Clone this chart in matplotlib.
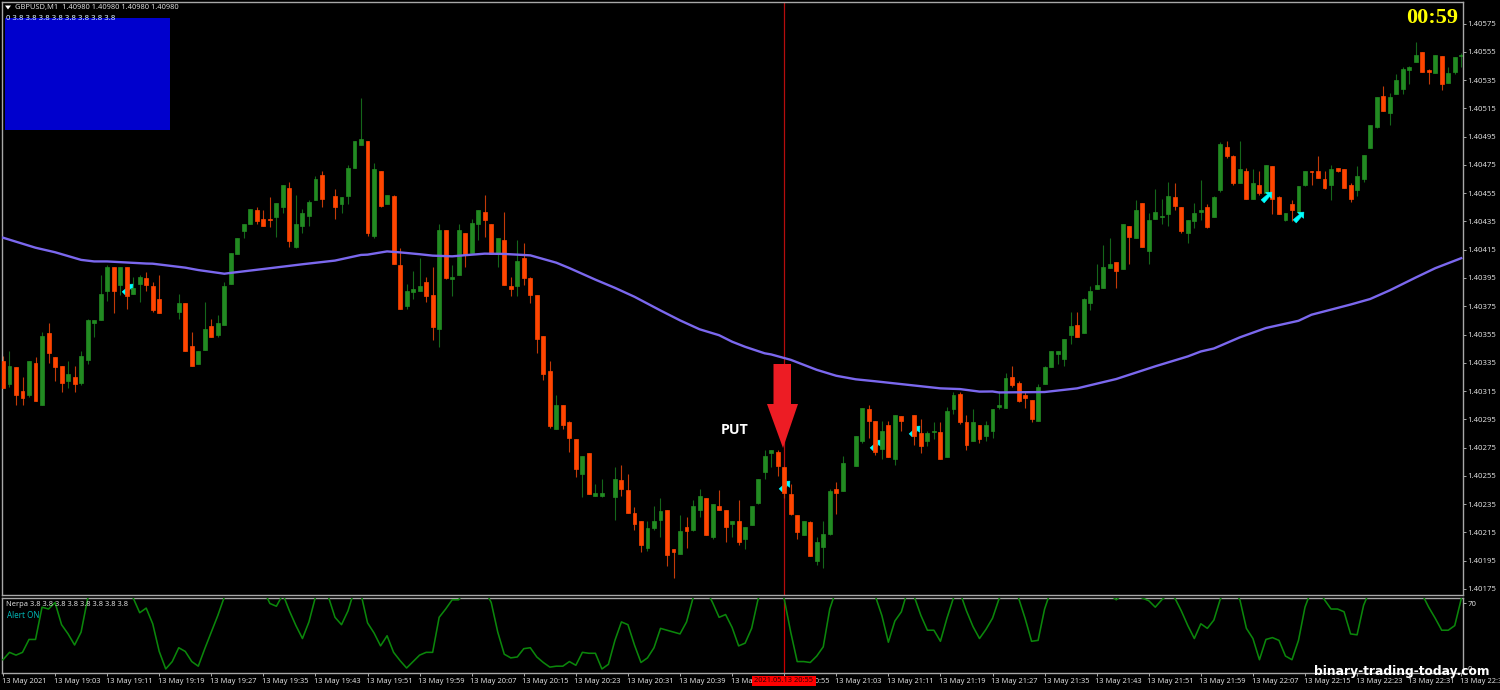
import numpy as np
import matplotlib
matplotlib.use("Agg")
import matplotlib.pyplot as plt
from matplotlib.patches import Rectangle, Polygon
from matplotlib.path import Path
from matplotlib.ticker import FixedLocator
from matplotlib.transforms import ScaledTranslation

W, H = 1500, 690
BASE = 1.4
PIP = 1e-5

# M1 candles in points above 1.40000 (None = no visible bar)
opens = [
336,320,332,315,312,335,305,356,339,333,
322,325,321,337,363,365,386,403,390,403,
384,391,395,389,380,None,None,371,377,347,
334,344,361,355,362,391,412,428,433,443,
437,437,438,445,459,417,432,439,450,468,
None,453,447,453,473,489,492,425,471,447,
453,404,375,385,386,392,383,359,429,394,
397,427,413,433,442,433,413,422,389,389,
409,395,383,354,329,288,305,293,281,256,
271,241,241,None,240,252,245,229,223,204,
218,224,231,203,200,219,217,231,239,212,
234,231,221,223,210,220,236,258,271,272,
261,242,227,213,222,195,205,214,246,244,
None,262,280,302,294,274,291,267,297,None,
298,285,280,286,286,268,302,313,293,280,
291,283,287,304,303,325,321,312,309,294,
320,332,341,338,355,362,356,377,387,388,
402,406,401,432,423,448,414,437,438,440,
452,445,427,435,442,445,438,457,488,481,
462,471,451,461,455,474,452,436,447,442,
461,471,471,465,461,473,472,461,457,465,
487,502,524,512,525,529,542,548,555,542,
540,552,533,541,552]
highs = [
340,343,332,325,336,339,357,363,339,333,
336,333,343,366,365,397,404,403,403,403,
396,397,399,392,397,None,None,384,377,357,
343,378,366,369,392,413,423,433,444,445,
443,452,448,461,463,454,444,450,467,471,
None,458,452,475,492,522,492,476,471,454,
454,416,391,400,409,396,403,433,429,404,
433,427,437,443,454,433,423,442,396,422,
420,396,383,354,336,312,305,294,281,269,
271,249,253,None,261,263,256,233,223,223,
234,239,231,203,227,226,238,246,239,235,
245,231,223,238,219,234,253,273,273,273,
261,249,227,223,223,212,223,246,251,269,
None,283,303,305,294,294,294,298,297,None,
298,295,287,293,293,304,314,314,298,302,
291,294,302,315,328,333,322,314,309,320,
333,343,343,352,371,371,381,389,405,418,
423,406,433,432,450,448,441,458,451,463,
462,445,436,448,464,447,453,491,492,482,
492,473,472,471,475,474,453,441,450,460,
471,471,481,471,475,473,472,462,474,482,
503,523,531,526,539,544,545,562,555,543,
553,552,544,551,554]
lows = [
317,318,305,305,311,308,305,335,322,314,
317,314,319,334,353,365,379,370,383,373,
384,378,386,371,370,None,None,366,343,333,
334,344,353,353,362,391,412,423,433,433,
432,431,424,441,417,416,427,432,450,445,
None,437,441,447,473,489,425,423,445,447,
405,373,373,380,386,378,351,346,394,382,
397,403,413,422,424,412,403,390,382,382,
390,377,342,323,289,288,288,272,254,240,
242,241,240,None,224,241,229,217,201,202,
217,212,191,183,200,204,216,226,213,210,
231,208,212,206,203,220,235,253,261,255,
239,227,210,213,198,192,190,213,228,244,
None,262,278,282,270,267,268,263,287,None,
277,271,276,281,267,268,299,292,273,280,
278,280,282,302,303,318,307,303,293,294,
320,332,334,333,348,353,356,372,387,388,
402,388,401,405,423,417,405,437,433,432,
443,427,420,430,436,430,438,456,480,461,
462,451,451,454,455,440,440,435,435,442,
460,461,466,458,450,470,459,449,453,463,
487,501,513,503,525,525,532,548,541,532,
540,528,533,539,544]
closes = [
317,333,312,310,336,308,354,342,332,321,
327,320,340,365,365,384,403,386,403,382,
388,396,390,372,370,None,None,377,343,333,
343,359,353,363,389,413,423,433,444,435,
432,436,448,461,421,433,441,449,465,451,
None,445,452,473,492,493,427,472,446,454,
405,373,386,387,389,382,360,429,395,396,
429,412,434,443,436,412,423,390,387,407,
395,383,352,327,290,305,291,282,260,269,
242,243,243,None,253,246,229,221,206,218,
223,230,199,201,216,216,234,241,213,235,
231,219,223,208,219,234,253,269,273,262,
243,228,215,223,198,208,214,244,243,264,
None,283,303,294,272,287,268,298,294,None,
283,276,285,287,267,301,312,293,277,293,
281,291,302,305,324,319,308,310,295,318,
332,343,343,352,361,353,380,386,390,403,
405,400,433,424,443,417,436,442,439,453,
446,428,436,441,443,431,452,490,481,462,
472,451,462,455,475,451,440,441,443,460,
471,470,466,459,472,471,459,451,467,482,
503,523,513,523,535,543,544,553,541,541,
553,532,540,551,553]

# Moving average, read at selected bars
ema_bars = [0,5,8,12,14,16,22,23,28,30,34,35,41,46,51,55,56,59,61,64,66,69,71,74,77,81,
            85,87,91,94,97,101,104,107,110,112,114,117,118,121,125,128,131,134,139,144,
            147,150,152,153,160,165,171,177,182,184,186,190,194,199,201,207,210,213,217,220,224]
ema_vals = [423.5,416.4,413.2,407.8,406.7,406.7,405.2,405.1,402.3,400.6,398,398.6,401.9,
            404.7,407.3,411.3,411.5,413.8,413.1,411.8,410.8,410.3,411.1,412.2,412,411,
            405.8,402,393.8,388,381.7,372,365,358.7,354.5,349.9,346.3,341.7,340.9,337.1,
            330,325.8,323.3,321.9,319.4,316.9,316.4,314.6,314.7,314,314.3,316.9,323.5,332.5,
            339.5,343,345.1,353,359.6,364.7,369,376.2,380.1,386.2,395.3,401.9,409]

# Oscillator (values above the panel are clipped)
oscillator = [
9,17,14,17,31,31,66,64,71,47,
37,25,39,75,90,95,95,95,90,85,
76,60,65,48,18,-1,7,22,18,7,
2,21,39,57,77,90,95,95,95,90,
85,70,67,80,62,46,32,50,77,85,
77,55,47,62,85,80,49,38,24,35,
17,8,0,7,14,17,17,55,64,74,
74,85,90,90,85,71,39,15,11,12,
21,22,12,6,1,2,2,7,3,17,
16,16,-1,4,30,50,47,25,6,11,
22,43,41,39,37,50,76,85,85,71,
55,58,44,24,27,43,75,90,90,90,
75,39,7,7,6,13,23,64,85,90,
95,95,90,85,78,57,28,51,61,85,
77,57,41,41,29,54,76,82,62,45,
32,42,54,75,85,85,76,54,29,30,
64,85,90,95,95,95,95,90,85,80,
80,74,80,85,80,76,73,66,74,80,
76,62,46,32,48,43,52,75,85,85,
74,43,32,9,31,33,30,13,9,30,
66,85,85,74,64,64,61,37,36,68,
85,90,95,95,95,95,90,85,80,66,
54,41,41,46,75]

# Signal arrows: bar, price in points
bright_arrow_bars = [194, 199]
bright_arrow_pts = [452, 438]
hidden_arrow_bars = [19, 120, 134, 140]
hidden_arrow_pts = [387, 248, 277, 287]

price_ticks = [1.40175,1.40195,1.40215,1.40235,1.40255,1.40275,1.40295,1.40315,1.40335,
               1.40355,1.40375,1.40395,1.40415,1.40435,1.40455,1.40475,1.40495,1.40515,
               1.40535,1.40555,1.40575]
time_labels = ["13 May 2021","13 May 19:03","13 May 19:11","13 May 19:19","13 May 19:27",
               "13 May 19:35","13 May 19:43","13 May 19:51","13 May 19:59","13 May 20:07",
               "13 May 20:15","13 May 20:23","13 May 20:31","13 May 20:39","13 May 20:47",
               "13 May 20:55","13 May 21:03","13 May 21:11","13 May 21:19","13 May 21:27",
               "13 May 21:35","13 May 21:43","13 May 21:51","13 May 21:59","13 May 22:07",
               "13 May 22:15","13 May 22:23","13 May 22:31","13 May 22:39"]

plt.rcParams['font.family'] = ['Noto Sans', 'DejaVu Sans']
BG, FRAME, TXT = 'black', '#a8a8a8', '#dcdcdc'
UP, DOWN = '#228B22', '#FF4500'
UP_W, DOWN_W = '#14661a', '#c23a08'

fig = plt.figure(figsize=(W/100, H/100), dpi=100, facecolor=BG)
L, R = 2, 1463
ax = fig.add_axes([L/W, 1-595/H, (R-L)/W, (595-1.5)/H], facecolor=BG)
sub = fig.add_axes([L/W, 1-673/H, (R-L)/W, (673-597.5)/H], facecolor=BG, sharex=ax)

def prices(seq):
    return BASE + np.array(seq, dtype=float)*PIP

o, h, l, c = prices(opens), prices(highs), prices(lows), prices(closes)
bars = np.arange(len(o))
valid = ~np.isnan(o)
is_up = c >= o
for mask, body, wick in ((valid & is_up, UP, UP_W), (valid & ~is_up, DOWN, DOWN_W)):
    ax.vlines(bars[mask], l[mask], h[mask], color=wick, lw=0.8, zorder=2)
    bottoms = np.minimum(o[mask], c[mask])
    heights = np.abs(c[mask]-o[mask])
    ax.bar(bars[mask], heights, bottom=bottoms, width=0.6, color=body, linewidth=0.5,
           edgecolor=body, zorder=3)

ax.plot(ema_bars, prices(ema_vals), color='#7B68EE', lw=1.7, zorder=5, solid_joinstyle='round')
ax.axvline(120, color='#b50d0d', lw=0.9, zorder=1)
sub.axvline(120, color='#c80000', lw=0.9, zorder=1)
sub.plot(bars, oscillator, color='#0b860b', lw=1.15, zorder=3)

arrow_marker = Path([(1, 1), (-0.15, 0.95), (0.18, 0.58), (-1, -0.42), (-0.42, -1),
                     (0.58, 0.18), (0.95, -0.15), (1, 1)], closed=True)
ax.scatter(bright_arrow_bars, prices(bright_arrow_pts), marker=arrow_marker, s=60,
           color='#00FFFF', edgecolors='#00FFFF', linewidths=0.4, zorder=6)
ax.scatter(hidden_arrow_bars, prices(hidden_arrow_pts), marker=arrow_marker, s=60,
           color='#00FFFF', edgecolors='#00FFFF', linewidths=0.4, zorder=2.5)

ax.set_xlim(-0.15, 224.27)
ax.set_ylim(BASE+170.7*PIP, BASE+590.6*PIP)
sub.set_ylim(-5.4, 76.5)

for a in (ax, sub):
    for s in a.spines.values():
        s.set_color(FRAME)
        s.set_linewidth(1.0)
    a.yaxis.tick_right()
    a.tick_params(axis='y', colors=TXT, length=2.0, width=0.7, labelsize=5.6, pad=1.0, color=FRAME)

ax.yaxis.set_major_locator(FixedLocator(price_ticks))
ax.set_yticklabels([f"{t:.5f}" for t in price_ticks])
ax.tick_params(axis='x', bottom=False, labelbottom=False)
sub.set_yticks([0, 70])
sub.set_yticklabels(['0', '70'])
sub.set_xticks(np.arange(0, 225, 8))
sub.set_xticklabels(time_labels, ha='left')
sub.tick_params(axis='x', colors=TXT, length=2.5, width=0.7, labelsize=5.4, pad=1.0, color=FRAME)
shift = ScaledTranslation(-1/72, 0, fig.dpi_scale_trans)
for lab in sub.get_xticklabels():
    lab.set_transform(lab.get_transform() + shift)

def ftext(x, y, s, **kw):
    kw.setdefault('va', 'center')
    kw.setdefault('ha', 'left')
    return fig.text(x/W, 1-y/H, s, **kw)

def pix(pts):
    return [(x/W, 1-y/H) for x, y in pts]

# Overlays
fig.add_artist(Rectangle((5/W, 1-130/H), 165/W, 112/H, transform=fig.transFigure,
                         facecolor='#0000CD', edgecolor='none', zorder=1.5))
fig.add_artist(Polygon(pix([(5,5.5),(11,5.5),(8,9.5)]), closed=True, transform=fig.transFigure,
                       facecolor='white', edgecolor='none', zorder=10))
ftext(15, 8, "GBPUSD,M1  1.40980 1.40980 1.40980 1.40980", color=TXT, fontsize=5.4, zorder=10)
ftext(6, 19, "0 3.8 3.8 3.8 3.8 3.8 3.8 3.8 3.8", color='#dff6ff', fontsize=5.55, zorder=10)
ftext(1406, 18, "00:59", color='#FFFF00', fontsize=16, fontweight='bold',
      family='Liberation Serif', zorder=10)
fig.add_artist(Polygon(pix([(773.5,364),(791,364),(791,404),(798,404),(783,448),(767,404),(773.5,404)]),
                       closed=True, transform=fig.transFigure, facecolor='#ED1C24', edgecolor='none', zorder=10))
ftext(721, 430, "PUT", color='white', fontsize=10.2, fontweight='bold', family='Open Sans', zorder=10)
ftext(6, 605, "Nerpa 3.8 3.8 3.8 3.8 3.8 3.8 3.8 3.8", color=TXT, fontsize=5.4, zorder=10)
ftext(7, 616, "Alert ON", color='#00B4B4', fontsize=5.8, zorder=10)
fig.add_artist(Rectangle((752/W, 1-685.5/H), 64/W, 10/H, transform=fig.transFigure,
                         facecolor='#FF0000', edgecolor='none', zorder=10))
ftext(784, 680.5, "2021.05.13 20:55", color='#300000', fontsize=5.4, ha='center', zorder=11)
ftext(1314, 671.5, "binary-trading-today.com", color='white', fontsize=8.85, fontweight='bold',
      family='DejaVu Sans', zorder=12)

fig.savefig('out.png', dpi=100, facecolor=BG)
